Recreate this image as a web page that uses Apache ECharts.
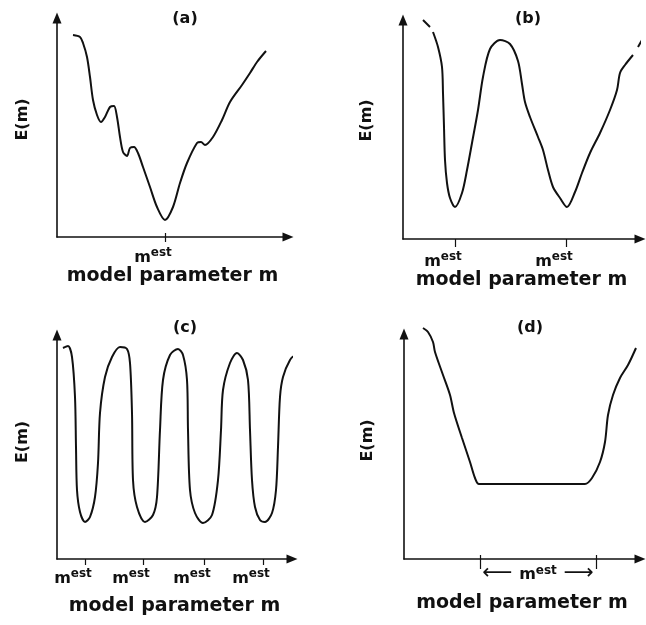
<!DOCTYPE html>
<html>
<head>
<meta charset="utf-8">
<script src="https://cdn.jsdelivr.net/npm/echarts@6/dist/echarts.min.js"></script>
<style>
  html, body { margin: 0; padding: 0; background: #ffffff; }
  #chart { width: 646px; height: 625px; }
</style>
</head>
<body>
<div id="chart"></div>
<script>
// Panel captions and axis texts
const panelTitles = ['(a)', '(b)', '(c)', '(d)'];
const xAxisTitle = 'model parameter m';
const yAxisTitle = 'E(m)';

// (a) a single global minimum with small local minima on its left flank
const curveA = [
  [16, 202], [23, 200], [26, 194], [30, 180], [33, 160], [36, 137], [40, 122], [44, 115],
  [48, 120], [53, 130], [57, 131], [60, 120], [63, 100], [66, 85], [70, 81], [73, 89],
  [77, 90], [81, 84], [86, 70], [93, 50], [100, 30], [108, 17], [116, 30], [123, 54],
  [130, 74], [140, 94], [144, 95], [148, 92], [156, 100], [165, 117], [173, 135],
  [185, 152], [193, 164], [200, 175], [209, 186]
];
const estA = [108];

// (b) two separate minima of equal depth
const curveB = [
  [30, 207], [35, 192], [39, 172], [40, 146], [41, 112], [42, 79], [44, 56], [47, 41],
  [52, 32], [59, 46], [64, 69], [69, 96], [75, 129], [80, 162], [87, 190], [97, 199],
  [107, 195], [115, 178], [119, 155], [122, 137], [127, 122], [135, 102], [140, 89],
  [145, 69], [150, 52], [157, 41], [164, 32], [172, 47], [179, 66], [187, 86], [197, 106],
  [207, 129], [214, 149], [217, 166], [222, 174], [230, 184]
];
const curveBLeftEnd = [[20, 219], [27, 212]];
const curveBRightEnd = [[235, 192], [242, 204]];
const estB = [52, 163];

// (c) a periodic error surface with many equal minima
const curveC = [
  [6, 211], [11, 213], [15, 202], [18, 162], [19, 112], [20, 69], [23, 47], [28, 37],
  [33, 42], [38, 62], [41, 96], [43, 146], [48, 182], [55, 202], [63, 212], [70, 210],
  [73, 196], [75, 146], [76, 79], [80, 52], [88, 37], [96, 44], [100, 62], [103, 129],
  [106, 179], [113, 204], [121, 210], [126, 204], [130, 179], [131, 129], [133, 69],
  [138, 46], [146, 36], [155, 44], [161, 79], [164, 129], [166, 169], [173, 196],
  [180, 206], [186, 199], [191, 179], [193, 129], [195, 79], [198, 52], [203, 39],
  [208, 37], [215, 46], [219, 69], [221, 112], [223, 162], [226, 182], [233, 199],
  [238, 203], [243, 200]
];
const estC = [28, 86, 147, 206];

// (d) a flat-bottomed minimum spanning a range of m
const curveD = [
  [19, 231], [24, 227], [29, 217], [31, 207], [39, 184], [46, 164], [50, 146], [58, 121],
  [66, 97], [71, 81], [75, 75], [181, 75], [188, 81], [196, 97], [201, 117], [204, 144],
  [209, 164], [216, 181], [224, 194], [232, 211]
];
const estD = [76, 192];
const estRangeD = [134];

const INK = '#111111';
const FONT = 'DejaVu Sans';

// Plot frames: left/top of each axis pair and the axis lengths
const frames = [
  { left: 57,  top: 18,  width: 231, height: 219, titleX: 180, titleY: 6 },
  { left: 403, top: 20,  width: 237, height: 219, titleX: 523, titleY: 6 },
  { left: 57,  top: 335, width: 235, height: 224, titleX: 180, titleY: 315 },
  { left: 404, top: 334, width: 236, height: 225, titleX: 525, titleY: 315 }
];

const estRich = {
  m: { fontFamily: FONT, fontWeight: 'bold', fontSize: 16, color: INK },
  s: { fontFamily: FONT, fontWeight: 'bold', fontSize: 12, color: INK, padding: [0, 0, 9, 0] },
  sp: { fontFamily: FONT, fontWeight: 'bold', fontSize: 12, color: INK, padding: [0, 24, 9, 0] },
  a: { fontFamily: FONT, fontSize: 21, color: INK, padding: [0, 0, 3, 0] }
};

const grids = [], xAxes = [], yAxes = [], series = [], titles = [];

function addPanel(i, cfg) {
  const f = frames[i];
  grids.push({ left: f.left, top: f.top, width: f.width, height: f.height, containLabel: false });
  titles.push({
    text: panelTitles[i], left: f.titleX, top: f.titleY, textAlign: 'center',
    textStyle: { fontFamily: FONT, fontWeight: 'bold', fontSize: 16, color: INK }
  });
  const xi = xAxes.length;
  xAxes.push({
    type: 'value', gridIndex: i, min: 0, max: f.width, position: 'bottom',
    name: xAxisTitle, nameLocation: 'middle', nameGap: cfg.nameGap,
    nameTextStyle: { fontFamily: FONT, fontWeight: 'bold', fontSize: 19, color: INK },
    axisLine: { show: true, symbol: ['none', 'triangle'], symbolSize: [9, 11],
      lineStyle: { color: INK, width: 1.6 } },
    axisTick: { show: true, customValues: cfg.ticks, length: cfg.tickLen,
      lineStyle: { color: INK, width: 1.2 } },
    axisLabel: { show: true, customValues: cfg.labels, margin: cfg.labelMargin,
      formatter: cfg.labelFormat, rich: estRich },
    splitLine: { show: false }
  });
  if (cfg.innerTick) {
    xAxes.push({
      type: 'value', gridIndex: i, min: 0, max: f.width, position: 'bottom',
      axisLine: { show: false },
      axisTick: { show: true, inside: true, customValues: cfg.ticks, length: cfg.innerTick,
        lineStyle: { color: INK, width: 1.2 } },
      axisLabel: { show: false }, splitLine: { show: false }
    });
  }
  yAxes.push({
    type: 'value', gridIndex: i, min: 0, max: f.height,
    name: yAxisTitle, nameLocation: 'middle', nameGap: cfg.yNameGap,
    nameTextStyle: { fontFamily: FONT, fontWeight: 'bold', fontSize: 16, color: INK,
      padding: [0, 0, 0, cfg.yNameShift] },
    axisLine: { show: true, symbol: ['none', 'triangle'], symbolSize: [9, 11],
      lineStyle: { color: INK, width: 1.6 } },
    axisTick: { show: false }, axisLabel: { show: false }, splitLine: { show: false }
  });
  cfg.curves.forEach(function (c) {
    series.push({
      type: 'line', xAxisIndex: xi, yAxisIndex: i, data: c,
      showSymbol: false, smooth: 0.3, clip: false, silent: true,
      lineStyle: { color: INK, width: 2 }
    });
  });
}

const estFormat = function () { return '{m|m}{sp|est}'; };

addPanel(0, { curves: [curveA], ticks: estA, labels: estA, tickLen: 5, innerTick: 4,
  labelMargin: 10, labelFormat: estFormat, nameGap: 30, yNameGap: 26, yNameShift: 16 });
addPanel(1, { curves: [curveB, curveBLeftEnd, curveBRightEnd], ticks: estB, labels: estB,
  tickLen: 8, labelMargin: 12, labelFormat: estFormat, nameGap: 31, yNameGap: 28, yNameShift: 18 });
addPanel(2, { curves: [curveC], ticks: estC, labels: estC, tickLen: 6,
  labelMargin: 9, labelFormat: estFormat, nameGap: 38, yNameGap: 26, yNameShift: 10 });
addPanel(3, { curves: [curveD], ticks: estD, labels: estRangeD, tickLen: 10, innerTick: 4,
  labelMargin: 4, labelFormat: function () { return '{a|\u27F5 }{m|m}{s|est}{a| \u27F6}'; },
  nameGap: 35, yNameGap: 28, yNameShift: 12 });

const chart = echarts.init(document.getElementById('chart'), null, { renderer: 'canvas' });
chart.setOption({
  backgroundColor: '#ffffff',
  animation: false,
  title: titles,
  grid: grids,
  xAxis: xAxes,
  yAxis: yAxes,
  series: series
});
</script>
</body>
</html>
